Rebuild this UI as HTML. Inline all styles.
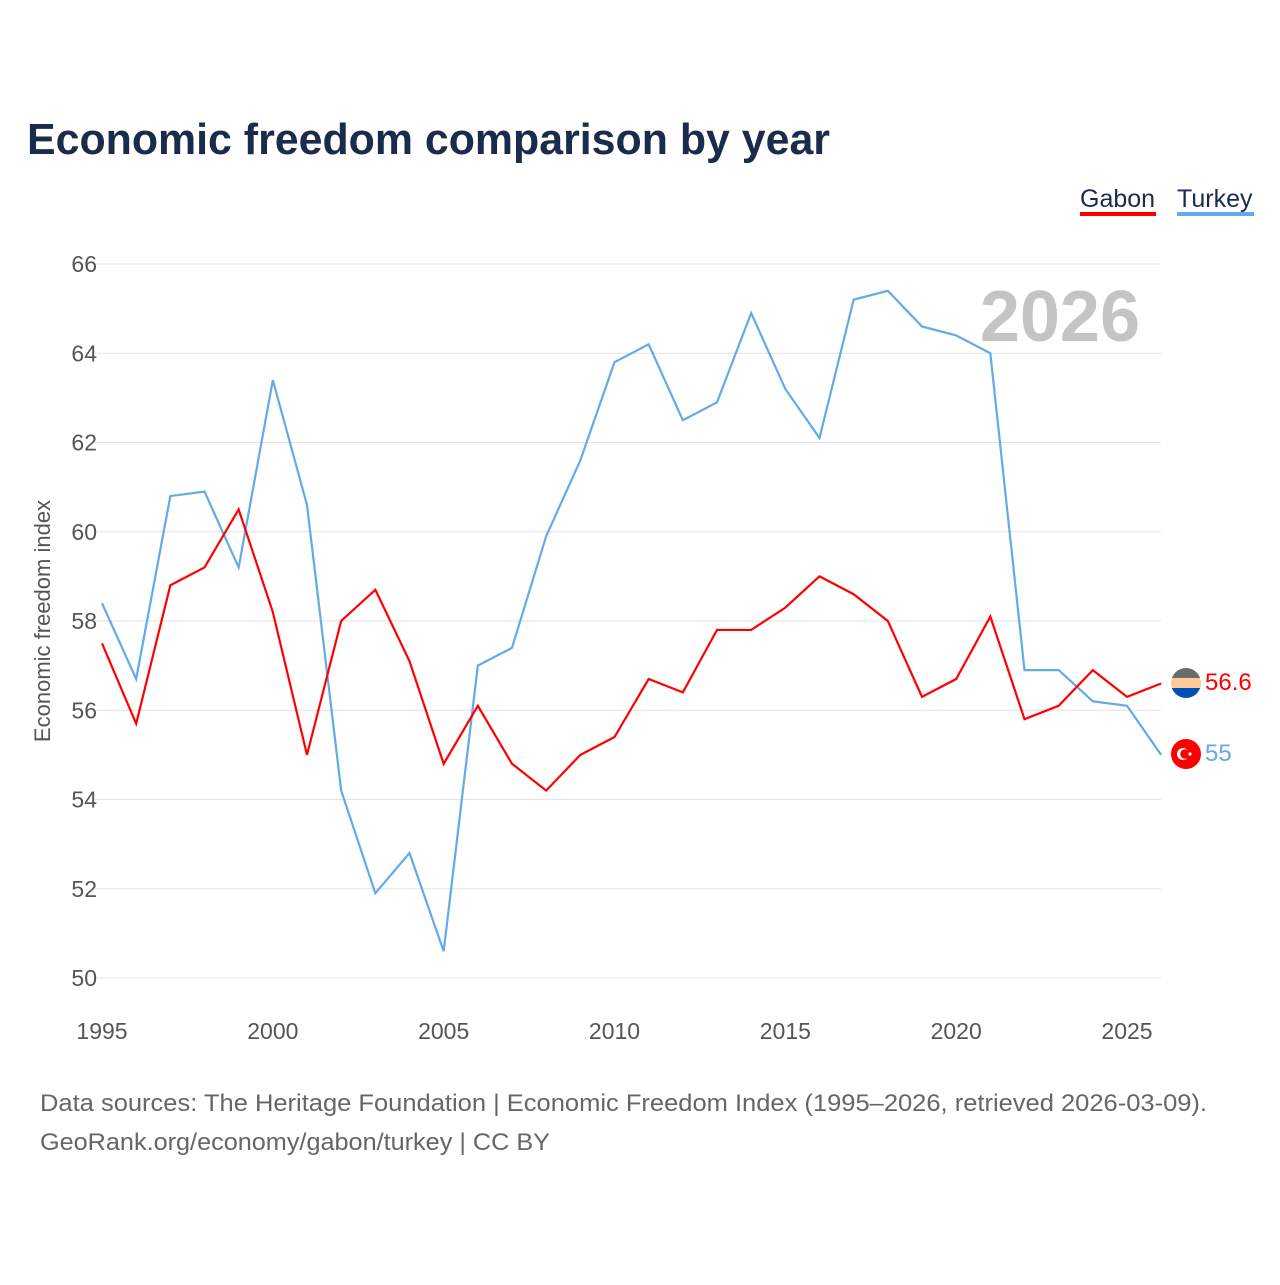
<!DOCTYPE html>
<html><head><meta charset="utf-8"><style>
body{margin:0;background:#fff;font-family:"Liberation Sans",sans-serif}
svg text{font-family:"Liberation Sans",sans-serif}
</style></head><body>
<svg width="1280" height="1280" viewBox="0 0 1280 1280">
<text x="27" y="154" font-size="44" font-weight="bold" fill="#1b2b4b" textLength="803" lengthAdjust="spacingAndGlyphs">Economic freedom comparison by year</text>
<g>
<text x="1080" y="207" font-size="25" fill="#1b2b4b">Gabon</text>
<rect x="1080" y="212" width="76" height="4" fill="#f00"/>
<text x="1177" y="207" font-size="25" fill="#1b2b4b">Turkey</text>
<rect x="1177" y="212" width="77" height="4" fill="#64a9ea"/>
</g>
<text x="1140" y="341" font-size="72" font-weight="bold" fill="#c4c4c4" text-anchor="end">2026</text>
<g id="grid"></g>
<g id="yticks"></g>
<g id="xticks"></g>
<text transform="translate(50,621) rotate(-90)" font-size="22" fill="#555" text-anchor="middle">Economic freedom index</text>
<g id="series"></g>
<g>
<clipPath id="cg"><circle cx="1186" cy="683" r="15"/></clipPath>
<g clip-path="url(#cg)"><rect x="1171" y="668" width="30" height="10" fill="#6b6b6b"/><rect x="1171" y="678" width="30" height="10" fill="#ffc99a"/><rect x="1171" y="688" width="30" height="10" fill="#0050b5"/></g>
<text x="1205" y="690" font-size="24" fill="#f00">56.6</text>
</g>
<g>
<circle cx="1186" cy="754" r="15" fill="#f00"/>
<circle cx="1183" cy="754" r="6" fill="#fff"/><circle cx="1185" cy="754" r="4.8" fill="#f00"/>
<circle cx="1190" cy="754" r="1.6" fill="#fff"/>
<text x="1205" y="761" font-size="24" fill="#64a9ea">55</text>
</g>
<text x="40" y="1111" font-size="24" fill="#666" textLength="1167" lengthAdjust="spacingAndGlyphs">Data sources: The Heritage Foundation | Economic Freedom Index (1995–2026, retrieved 2026-03-09).</text>
<text x="40" y="1150" font-size="24" fill="#666" textLength="510" lengthAdjust="spacingAndGlyphs">GeoRank.org/economy/gabon/turkey | CC BY</text>
</svg>
<script>
const years=[1995,1996,1997,1998,1999,2000,2001,2002,2003,2004,2005,2006,2007,2008,2009,2010,2011,2012,2013,2014,2015,2016,2017,2018,2019,2020,2021,2022,2023,2024,2025,2026];
const gabon=[57.5,55.7,58.8,59.2,60.5,58.2,55.0,58.0,58.7,57.1,54.8,56.1,54.8,54.2,55.0,55.4,56.7,56.4,57.8,57.8,58.3,59.0,58.6,58.0,56.3,56.7,58.1,55.8,56.1,56.9,56.3,56.6];
const turkey=[58.4,56.7,60.8,60.9,59.2,63.4,60.6,54.2,51.9,52.8,50.6,57.0,57.4,59.9,61.6,63.8,64.2,62.5,62.9,64.9,63.2,62.1,65.2,65.4,64.6,64.4,64.0,56.9,56.9,56.2,56.1,55.0];
const yTicks=[50,52,54,56,58,60,62,64,66];
const xTicks=[1995,2000,2005,2010,2015,2020,2025];
const NS="http://www.w3.org/2000/svg";
const xS=y=>102+(y-1995)*(1127-102)/30;
const yS=v=>978-(v-50)*(978-264)/16;
function mk(t,a,p){const e=document.createElementNS(NS,t);for(const k in a)e.setAttribute(k,a[k]);p.appendChild(e);return e;}
const grid=document.getElementById('grid'),yt=document.getElementById('yticks'),xt=document.getElementById('xticks'),ser=document.getElementById('series');
yTicks.forEach(v=>{
const l=mk('line',{x1:95,x2:1161,y1:yS(v),y2:yS(v),stroke:'#e3e3e3','stroke-width':1},grid);


const t=mk('text',{x:97,y:yS(v)+8,'font-size':23,fill:'#555','text-anchor':'end'},yt);
t.textContent=v;


});
xTicks.forEach(y=>{
const t=mk('text',{x:xS(y),y:1039,'font-size':23,fill:'#555','text-anchor':'middle'},xt);
t.textContent=y;


});
function line(vals,color,name){
const p=mk('polyline',{points:vals.map((v,i)=>xS(years[i])+','+yS(v)).join(' '),fill:'none',stroke:color,'stroke-width':2.2,'stroke-linejoin':'miter'},ser);


}
line(turkey,'#64a9ea','turkey-line');
line(gabon,'#f00','gabon-line');
</script>
</body></html>
